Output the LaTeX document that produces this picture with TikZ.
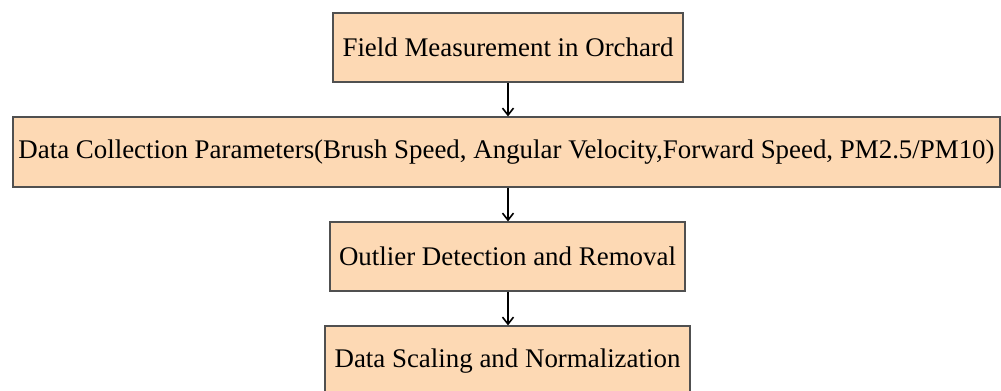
\documentclass[tikz,border=0pt]{standalone}
\usepackage{fontspec}
\setmainfont{Liberation Serif}
\usetikzlibrary{arrows.meta}
\definecolor{boxfill}{RGB}{253,217,180}
\definecolor{boxline}{RGB}{80,80,80}
\tikzset{
  stagebox/.style={draw=boxline, line width=1.2bp, fill=boxfill, rectangle, inner sep=0pt,
    font=\fontsize{27}{31}\selectfont, text=black},
  flowarrow/.style={line width=1.6bp, -{Straight Barb[length=7bp,width=11bp,line width=1.6bp]}}
}
\begin{document}
\begin{tikzpicture}[x=1bp,y=-1bp]
\useasboundingbox (0,0) rectangle (1001,390);
\node[stagebox, minimum width=350bp, minimum height=69bp] (a) at (508,47.5) {Field Measurement in Orchard};
\node[stagebox, minimum width=987bp, minimum height=70bp] (b) at (506.5,152) {Data Collection Parameters(Brush Speed, Angular Velocity,Forward Speed, PM2.5/PM10)};
\node[stagebox, minimum width=355bp, minimum height=69bp] (c) at (507.5,256.5) {Outlier Detection and Removal};
\node[stagebox, minimum width=365bp, minimum height=70bp] (d) at (507.5,361) {Data Scaling and Normalization};
\draw[flowarrow] (a.south) -- (a.south |- b.north);
\draw[flowarrow] (a.south |- b.south) -- (a.south |- c.north);
\draw[flowarrow] (a.south |- c.south) -- (a.south |- d.north);
\end{tikzpicture}
\end{document}
